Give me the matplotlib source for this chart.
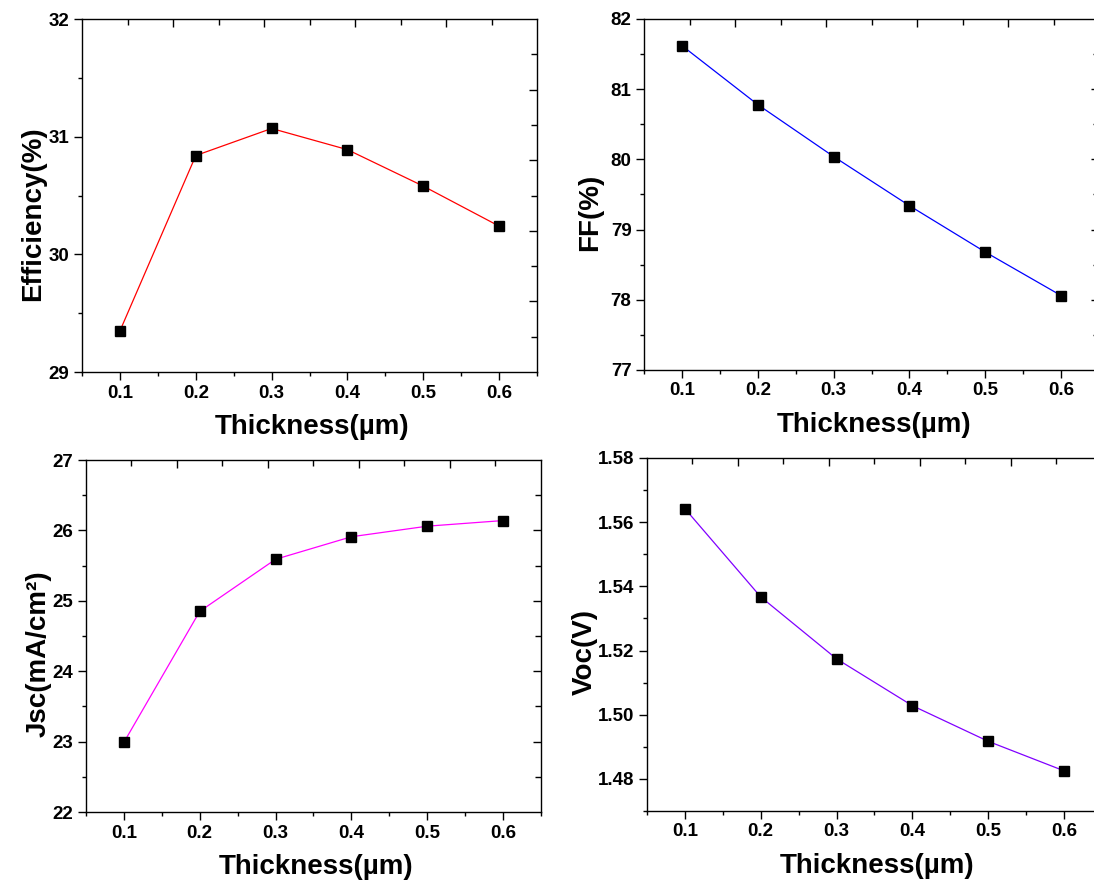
import matplotlib
matplotlib.use('Agg')
import matplotlib.pyplot as plt
from matplotlib.ticker import MultipleLocator, FixedLocator, NullFormatter, FormatStrFormatter

plt.rcParams['font.family'] = ['Liberation Sans', 'DejaVu Sans']
plt.rcParams['font.weight'] = 'bold'

# data
thickness = [0.1, 0.2, 0.3, 0.4, 0.5, 0.6]
efficiency = [29.35, 30.84, 31.07, 30.89, 30.58, 30.24]
ff = [81.62, 80.78, 80.04, 79.34, 78.68, 78.06]
jsc = [22.99, 24.85, 25.59, 25.91, 26.06, 26.14]
voc = [1.5642, 1.5367, 1.5174, 1.5028, 1.4917, 1.4825]

xticks = [0.1, 0.2, 0.3, 0.4, 0.5, 0.6]
xlabel = 'Thickness(\u00b5m)'

fig = plt.figure(figsize=(10.94, 8.86), dpi=100)


def panel(rect, y, color, ylabel, ylim, ymaj, ymin, fmt, right_maj, right_min, ylab_x):
    ax = fig.add_axes(rect)
    ax.plot(thickness, y, color=color, lw=0.9, marker='s', ms=6.5,
            mfc='black', mec='black', zorder=3)
    ax.set_xlim(0.05, 0.65)
    ax.set_ylim(*ylim)
    ax.xaxis.set_major_locator(FixedLocator(xticks))
    ax.xaxis.set_minor_locator(MultipleLocator(0.05))
    ax.yaxis.set_major_locator(MultipleLocator(ymaj))
    ax.yaxis.set_minor_locator(MultipleLocator(ymin))
    ax.yaxis.set_major_formatter(FormatStrFormatter(fmt))
    ax.tick_params(which='major', direction='out', length=6, width=1, labelsize=13.5, pad=3)
    ax.tick_params(which='minor', direction='out', length=3, width=1)
    for lab in ax.get_xticklabels() + ax.get_yticklabels():
        lab.set_fontweight('bold')
    for s in ax.spines.values():
        s.set_linewidth(1.0)
    ax.set_xlabel(xlabel, fontsize=20, fontweight='bold')
    ax.set_ylabel(ylabel, fontsize=20, fontweight='bold')
    ax.xaxis.set_label_coords(0.505, -0.12)
    ax.yaxis.set_label_coords(ylab_x, 0.45)

    # opposite axes: inward ticks, no labels
    top = ax.secondary_xaxis('top')
    top.xaxis.set_major_locator(FixedLocator([0.17, 0.29, 0.41, 0.53]))
    top.xaxis.set_minor_locator(FixedLocator([0.11, 0.23, 0.35, 0.47, 0.59]))
    top.xaxis.set_major_formatter(NullFormatter())
    top.tick_params(which='major', direction='in', length=6, width=1)
    top.tick_params(which='minor', direction='in', length=4, width=1)
    top.spines['top'].set_visible(False)

    right = ax.secondary_yaxis('right')
    right.yaxis.set_major_locator(FixedLocator(right_maj))
    right.yaxis.set_minor_locator(FixedLocator(right_min))
    right.yaxis.set_major_formatter(NullFormatter())
    right.tick_params(which='major', direction='in', length=6, width=1)
    right.tick_params(which='minor', direction='in', length=4, width=1)
    right.spines['right'].set_visible(False)
    return ax


panel([0.0750, 0.5801, 0.4159, 0.3984], efficiency, '#ff0000', 'Efficiency(%)',
      (29, 32), 1, 0.5, '%d',
      [29.6, 30.2, 30.8, 31.4], [29.3, 29.9, 30.5, 31.1, 31.7], -0.08)

panel([0.5887, 0.5824, 0.4159, 0.3962], ff, '#0000ff', 'FF(%)',
      (77, 82), 1, 0.5, '%d',
      [78, 79, 80, 81], [77.5, 78.5, 79.5, 80.5, 81.5], -0.09)

panel([0.0786, 0.0835, 0.4159, 0.3973], jsc, '#ff00ff', 'Jsc(mA/cm\u00b2)',
      (22, 27), 1, 0.5, '%d',
      [23, 24, 25, 26], [22.5, 23.5, 24.5, 25.5, 26.5], -0.075)

panel([0.5914, 0.0847, 0.4159, 0.3984], voc, '#8000ff', 'Voc(V)',
      (1.47, 1.58), 0.02, 0.01, '%.2f',
      [1.48, 1.50, 1.52, 1.54, 1.56], [1.49, 1.51, 1.53, 1.55, 1.57], -0.107)

fig.savefig('out.png', dpi=100)
